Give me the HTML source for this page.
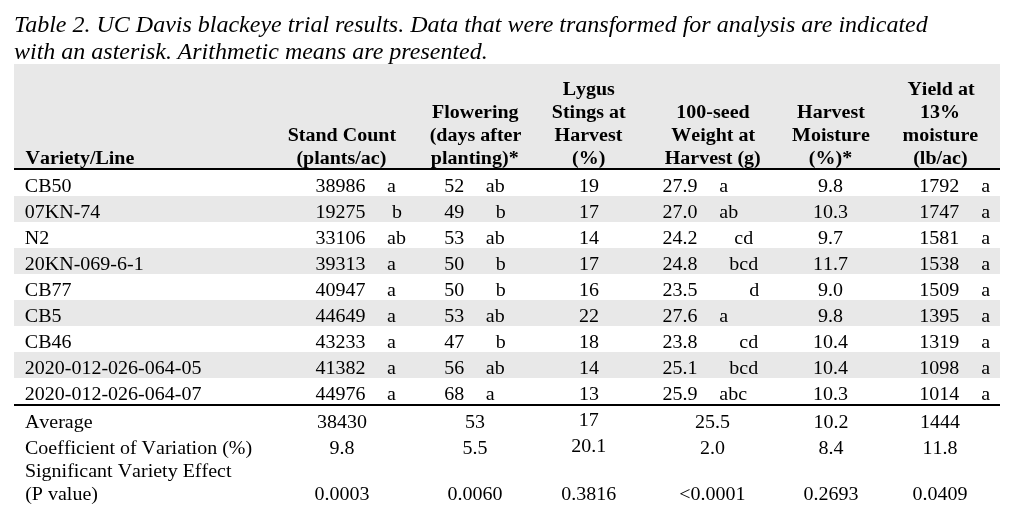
<!DOCTYPE html>
<html><head><meta charset="utf-8"><title>Table 2</title>
<style>
html,body{margin:0;padding:0;background:#fff;}
body{width:1016px;height:522px;position:relative;overflow:hidden;font-family:"Liberation Serif",serif;color:#000;font-kerning:none;font-variant-ligatures:none;}
.cap{position:absolute;left:14px;top:10.75px;font-kerning:normal;font-style:italic;font-size:24px;line-height:27px;white-space:nowrap;}
.hd{position:absolute;left:14px;top:64px;width:986px;height:104px;background:#e8e8e8;}
.bg{position:absolute;left:14px;width:986px;background:#e8e8e8;}
.rule{position:absolute;left:14px;width:986px;height:2px;background:#000;}
.t{position:absolute;font-size:20px;line-height:23px;white-space:pre;transform:scaleY(0.9);transform-origin:0 18px;}
.c{text-align:center;}
.b{font-weight:bold;}
.txt{position:absolute;left:0;top:0;width:1016px;height:522px;will-change:transform;}
</style></head><body>
<div class="hd"></div>
<div class="bg" style="top:196px;height:26px"></div>
<div class="bg" style="top:248px;height:26px"></div>
<div class="bg" style="top:300px;height:26px"></div>
<div class="bg" style="top:352px;height:26px"></div>
<div class="rule" style="top:168px"></div>
<div class="rule" style="top:404px"></div>
<div class="txt">
<div class="cap">Table 2. UC Davis blackeye trial results. Data that were transformed for analysis are indicated<br>with an asterisk. Arithmetic means are presented.</div>
<div class="t b" style="left:25.5px;top:145.50px">Variety/Line</div>
<div class="t c b" style="left:241.90px;top:122.50px;width:200px">Stand Count</div>
<div class="t c b" style="left:241.40px;top:145.50px;width:200px">(plants/ac)</div>
<div class="t c b" style="left:375.25px;top:99.50px;width:200px">Flowering</div>
<div class="t c b" style="left:375.50px;top:122.50px;width:200px">(days after</div>
<div class="t c b" style="left:374.75px;top:145.50px;width:200px">planting)*</div>
<div class="t c b" style="left:488.75px;top:76.50px;width:200px">Lygus</div>
<div class="t c b" style="left:488.75px;top:99.50px;width:200px">Stings at</div>
<div class="t c b" style="left:488.50px;top:122.50px;width:200px">Harvest</div>
<div class="t c b" style="left:488.75px;top:145.50px;width:200px">(%)</div>
<div class="t c b" style="left:613.00px;top:99.50px;width:200px">100-seed</div>
<div class="t c b" style="left:613.25px;top:122.50px;width:200px">Weight at</div>
<div class="t c b" style="left:612.75px;top:145.50px;width:200px">Harvest (g)</div>
<div class="t c b" style="left:731.00px;top:99.50px;width:200px">Harvest</div>
<div class="t c b" style="left:731.00px;top:122.50px;width:200px">Moisture</div>
<div class="t c b" style="left:730.50px;top:145.50px;width:200px">(%)*</div>
<div class="t c b" style="left:841.00px;top:76.50px;width:200px">Yield at</div>
<div class="t c b" style="left:840.00px;top:99.50px;width:200px">13%</div>
<div class="t c b" style="left:840.40px;top:122.50px;width:200px">moisture</div>
<div class="t c b" style="left:840.40px;top:145.50px;width:200px">(lb/ac)</div>
<div class="t " style="left:24.8px;top:173.50px">CB50</div>
<div class="t c " style="left:240.50px;top:173.50px;width:200px">38986</div>
<div class="t " style="left:387.0px;top:173.50px">a</div>
<div class="t c " style="left:354.20px;top:173.50px;width:200px">52</div>
<div class="t " style="left:485.8px;top:173.50px">ab</div>
<div class="t c " style="left:489.00px;top:173.50px;width:200px">19</div>
<div class="t c " style="left:580.10px;top:173.50px;width:200px">27.9</div>
<div class="t " style="left:719.3px;top:173.50px">a</div>
<div class="t c " style="left:730.60px;top:173.50px;width:200px">9.8</div>
<div class="t c " style="left:839.20px;top:173.50px;width:200px">1792</div>
<div class="t " style="left:981.3px;top:173.50px">a</div>
<div class="t " style="left:24.8px;top:199.50px">07KN-74</div>
<div class="t c " style="left:240.50px;top:199.50px;width:200px">19275</div>
<div class="t " style="left:387.0px;top:199.50px"> b</div>
<div class="t c " style="left:354.20px;top:199.50px;width:200px">49</div>
<div class="t " style="left:485.8px;top:199.50px">  b</div>
<div class="t c " style="left:489.00px;top:199.50px;width:200px">17</div>
<div class="t c " style="left:580.10px;top:199.50px;width:200px">27.0</div>
<div class="t " style="left:719.3px;top:199.50px">ab</div>
<div class="t c " style="left:730.60px;top:199.50px;width:200px">10.3</div>
<div class="t c " style="left:839.20px;top:199.50px;width:200px">1747</div>
<div class="t " style="left:981.3px;top:199.50px">a</div>
<div class="t " style="left:24.8px;top:225.50px">N2</div>
<div class="t c " style="left:240.50px;top:225.50px;width:200px">33106</div>
<div class="t " style="left:387.0px;top:225.50px">ab</div>
<div class="t c " style="left:354.20px;top:225.50px;width:200px">53</div>
<div class="t " style="left:485.8px;top:225.50px">ab</div>
<div class="t c " style="left:489.00px;top:225.50px;width:200px">14</div>
<div class="t c " style="left:580.10px;top:225.50px;width:200px">24.2</div>
<div class="t " style="left:719.3px;top:225.50px">   cd</div>
<div class="t c " style="left:730.60px;top:225.50px;width:200px">9.7</div>
<div class="t c " style="left:839.20px;top:225.50px;width:200px">1581</div>
<div class="t " style="left:981.3px;top:225.50px">a</div>
<div class="t " style="left:24.8px;top:251.50px">20KN-069-6-1</div>
<div class="t c " style="left:240.50px;top:251.50px;width:200px">39313</div>
<div class="t " style="left:387.0px;top:251.50px">a</div>
<div class="t c " style="left:354.20px;top:251.50px;width:200px">50</div>
<div class="t " style="left:485.8px;top:251.50px">  b</div>
<div class="t c " style="left:489.00px;top:251.50px;width:200px">17</div>
<div class="t c " style="left:580.10px;top:251.50px;width:200px">24.8</div>
<div class="t " style="left:719.3px;top:251.50px">  bcd</div>
<div class="t c " style="left:730.60px;top:251.50px;width:200px">11.7</div>
<div class="t c " style="left:839.20px;top:251.50px;width:200px">1538</div>
<div class="t " style="left:981.3px;top:251.50px">a</div>
<div class="t " style="left:24.8px;top:277.50px">CB77</div>
<div class="t c " style="left:240.50px;top:277.50px;width:200px">40947</div>
<div class="t " style="left:387.0px;top:277.50px">a</div>
<div class="t c " style="left:354.20px;top:277.50px;width:200px">50</div>
<div class="t " style="left:485.8px;top:277.50px">  b</div>
<div class="t c " style="left:489.00px;top:277.50px;width:200px">16</div>
<div class="t c " style="left:580.10px;top:277.50px;width:200px">23.5</div>
<div class="t " style="left:719.3px;top:277.50px">      d</div>
<div class="t c " style="left:730.60px;top:277.50px;width:200px">9.0</div>
<div class="t c " style="left:839.20px;top:277.50px;width:200px">1509</div>
<div class="t " style="left:981.3px;top:277.50px">a</div>
<div class="t " style="left:24.8px;top:303.50px">CB5</div>
<div class="t c " style="left:240.50px;top:303.50px;width:200px">44649</div>
<div class="t " style="left:387.0px;top:303.50px">a</div>
<div class="t c " style="left:354.20px;top:303.50px;width:200px">53</div>
<div class="t " style="left:485.8px;top:303.50px">ab</div>
<div class="t c " style="left:489.00px;top:303.50px;width:200px">22</div>
<div class="t c " style="left:580.10px;top:303.50px;width:200px">27.6</div>
<div class="t " style="left:719.3px;top:303.50px">a</div>
<div class="t c " style="left:730.60px;top:303.50px;width:200px">9.8</div>
<div class="t c " style="left:839.20px;top:303.50px;width:200px">1395</div>
<div class="t " style="left:981.3px;top:303.50px">a</div>
<div class="t " style="left:24.8px;top:329.50px">CB46</div>
<div class="t c " style="left:240.50px;top:329.50px;width:200px">43233</div>
<div class="t " style="left:387.0px;top:329.50px">a</div>
<div class="t c " style="left:354.20px;top:329.50px;width:200px">47</div>
<div class="t " style="left:485.8px;top:329.50px">  b</div>
<div class="t c " style="left:489.00px;top:329.50px;width:200px">18</div>
<div class="t c " style="left:580.10px;top:329.50px;width:200px">23.8</div>
<div class="t " style="left:719.3px;top:329.50px">    cd</div>
<div class="t c " style="left:730.60px;top:329.50px;width:200px">10.4</div>
<div class="t c " style="left:839.20px;top:329.50px;width:200px">1319</div>
<div class="t " style="left:981.3px;top:329.50px">a</div>
<div class="t " style="left:24.8px;top:355.50px">2020-012-026-064-05</div>
<div class="t c " style="left:240.50px;top:355.50px;width:200px">41382</div>
<div class="t " style="left:387.0px;top:355.50px">a</div>
<div class="t c " style="left:354.20px;top:355.50px;width:200px">56</div>
<div class="t " style="left:485.8px;top:355.50px">ab</div>
<div class="t c " style="left:489.00px;top:355.50px;width:200px">14</div>
<div class="t c " style="left:580.10px;top:355.50px;width:200px">25.1</div>
<div class="t " style="left:719.3px;top:355.50px">  bcd</div>
<div class="t c " style="left:730.60px;top:355.50px;width:200px">10.4</div>
<div class="t c " style="left:839.20px;top:355.50px;width:200px">1098</div>
<div class="t " style="left:981.3px;top:355.50px">a</div>
<div class="t " style="left:24.8px;top:381.50px">2020-012-026-064-07</div>
<div class="t c " style="left:240.50px;top:381.50px;width:200px">44976</div>
<div class="t " style="left:387.0px;top:381.50px">a</div>
<div class="t c " style="left:354.20px;top:381.50px;width:200px">68</div>
<div class="t " style="left:485.8px;top:381.50px">a</div>
<div class="t c " style="left:489.00px;top:381.50px;width:200px">13</div>
<div class="t c " style="left:580.10px;top:381.50px;width:200px">25.9</div>
<div class="t " style="left:719.3px;top:381.50px">abc</div>
<div class="t c " style="left:730.60px;top:381.50px;width:200px">10.3</div>
<div class="t c " style="left:839.20px;top:381.50px;width:200px">1014</div>
<div class="t " style="left:981.3px;top:381.50px">a</div>
<div class="t " style="left:24.9px;top:410.10px">Average</div>
<div class="t " style="left:25px;top:435.85px">Coefficient of Variation (%)</div>
<div class="t " style="left:24.9px;top:459.10px">Significant Variety Effect</div>
<div class="t " style="left:25.2px;top:482.10px">(P value)</div>
<div class="t c " style="left:241.90px;top:410.10px;width:200px">38430</div>
<div class="t c " style="left:241.90px;top:435.85px;width:200px">9.8</div>
<div class="t c " style="left:241.90px;top:482.10px;width:200px">0.0003</div>
<div class="t c " style="left:375.10px;top:410.10px;width:200px">53</div>
<div class="t c " style="left:375.10px;top:435.85px;width:200px">5.5</div>
<div class="t c " style="left:375.10px;top:482.10px;width:200px">0.0060</div>
<div class="t c " style="left:488.70px;top:408.10px;width:200px">17</div>
<div class="t c " style="left:488.70px;top:433.85px;width:200px">20.1</div>
<div class="t c " style="left:488.70px;top:482.10px;width:200px">0.3816</div>
<div class="t c " style="left:612.40px;top:410.10px;width:200px">25.5</div>
<div class="t c " style="left:612.40px;top:435.85px;width:200px">2.0</div>
<div class="t c " style="left:612.40px;top:482.10px;width:200px">&lt;0.0001</div>
<div class="t c " style="left:731.00px;top:410.10px;width:200px">10.2</div>
<div class="t c " style="left:731.00px;top:435.85px;width:200px">8.4</div>
<div class="t c " style="left:731.00px;top:482.10px;width:200px">0.2693</div>
<div class="t c " style="left:840.00px;top:410.10px;width:200px">1444</div>
<div class="t c " style="left:840.00px;top:435.85px;width:200px">11.8</div>
<div class="t c " style="left:840.00px;top:482.10px;width:200px">0.0409</div>
</div>
</body></html>
